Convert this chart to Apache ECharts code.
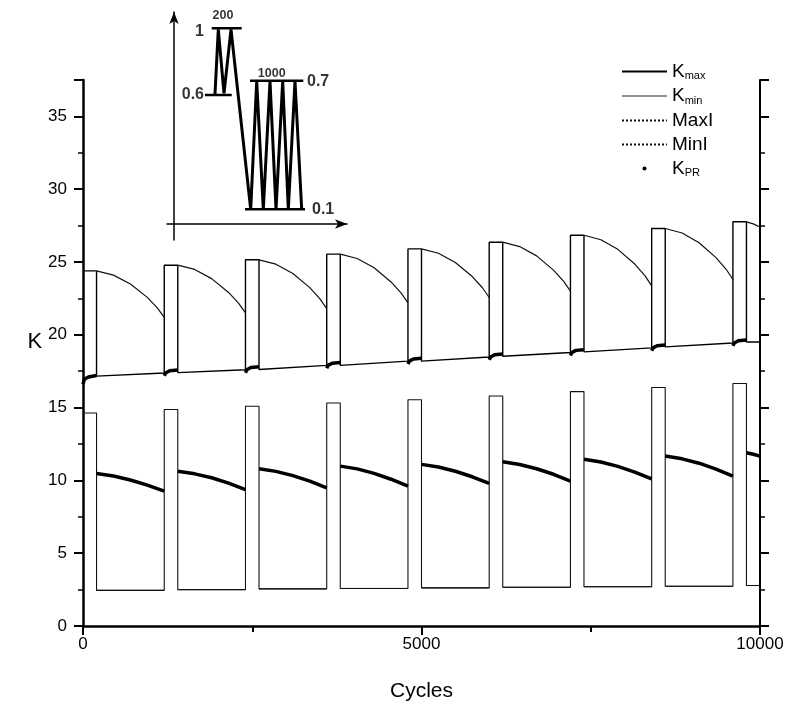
<!DOCTYPE html>
<html>
<head>
<meta charset="utf-8">
<script src="https://cdn.jsdelivr.net/npm/echarts@6/dist/echarts.min.js"></script>
<style>
  html, body { margin: 0; padding: 0; background: #fff; }
  #chart { width: 789px; height: 715px; }
</style>
</head>
<body>
<div id="chart"></div>
<script>
// block loading: 200 overload cycles then 1000 constant-amplitude cycles
const blockStart = [0, 1200, 2400, 3600, 4800, 6000, 7200, 8400, 9600];
const overloadCycles = 200;
const blockCycles = 1200;
const endCycle = 10000;

const kmaxOverload = [24.39, 24.78, 25.15, 25.54, 25.90, 26.36, 26.84, 27.30, 27.76];
const kmaxBaseStart = [17.16, 17.40, 17.62, 17.90, 18.19, 18.53, 18.83, 19.17, 19.51];
const kmaxBaseEnd = [17.38, 17.60, 17.90, 18.19, 18.48, 18.78, 19.10, 19.44, 19.51];
const kminOverload = [14.63, 14.87, 15.09, 15.32, 15.54, 15.80, 16.10, 16.38, 16.66];
const kminBase = [2.45, 2.50, 2.55, 2.58, 2.62, 2.66, 2.70, 2.73, 2.78];

// MaxI after each overload, offsets counted from end of overload
const maxIOffsets = [0, 250, 500, 750, 900, 1000];
const maxI = [
  [24.39, 24.10, 23.49, 22.57, 21.83, 21.19],
  [24.78, 24.49, 23.86, 22.91, 22.16, 21.50],
  [25.15, 24.85, 24.21, 23.24, 22.47, 21.80],
  [25.54, 25.24, 24.60, 23.63, 22.86, 22.19],
  [25.90, 25.60, 24.97, 24.00, 23.23, 22.56],
  [26.36, 26.06, 25.42, 24.44, 23.67, 23.00],
  [26.84, 26.53, 25.87, 24.86, 24.06, 23.36],
  [27.30, 26.99, 26.32, 25.30, 24.50, 23.80]
];
const tailOffsets = [0, 100, 200];
const maxITail = [27.76, 27.62, 27.40];

// K_PR during overload (from block start) and after it (from end of overload)
const kprUpperOffsets = [0, 20, 80, 200];
const kprUpper = [
  [16.60, 16.95, 17.10, 17.20],
  [17.18, 17.38, 17.53, 17.58],
  [17.40, 17.60, 17.75, 17.80],
  [17.70, 17.90, 18.05, 18.10],
  [17.99, 18.19, 18.34, 18.39],
  [18.28, 18.48, 18.63, 18.68],
  [18.58, 18.78, 18.93, 18.98],
  [18.90, 19.10, 19.25, 19.30],
  [19.24, 19.44, 19.59, 19.64]
];
const kprLowerOffsets = [0, 250, 500, 750, 1000];
const kprLower = [
  [10.47, 10.30, 10.03, 9.68, 9.26],
  [10.63, 10.45, 10.18, 9.81, 9.37],
  [10.80, 10.62, 10.33, 9.95, 9.49],
  [10.98, 10.79, 10.48, 10.08, 9.60],
  [11.10, 10.92, 10.63, 10.25, 9.79],
  [11.28, 11.09, 10.80, 10.42, 9.95],
  [11.45, 11.26, 10.96, 10.57, 10.10],
  [11.67, 11.48, 11.18, 10.78, 10.30]
];
const kprLowerTail = [11.90, 11.80, 11.67];

// inset sketch (its own drawing units)
const insetPathX = [41, 44.3, 50, 57, 76.7, 82.7, 89.3, 96, 102, 108.7, 114.3, 121, 127.7];
const insetPathY = [130, 194.7, 130.7, 194.7, 14.7, 142.7, 14.7, 142.7, 14.7, 142.7, 14.7, 142.7, 14.7];
const insetLevels = [[37.7, 67.7, 195.7], [31, 57.7, 129], [76, 129.3, 143.3], [71, 131, 14.7]];
const insetLabels = ['1', '0.6', '0.7', '0.1', '200', '1000'];
const insetLabelPos = [[30, 192], [30, 129], [133, 142], [138, 14], [49, 208], [97.7, 150]];

const font = 'Liberation Sans, Arial, sans-serif';

const kmaxData = [], kminData = [], maxIData = [], minIData = [], kprData = [];
blockStart.forEach(function(t0, i) {
  const t1 = t0 + overloadCycles;
  const t2 = Math.min(t0 + blockCycles, endCycle);
  if (i > 0) {
    kmaxData.push([t0, kmaxBaseEnd[i - 1]]);
    kminData.push([t0, kminBase[i - 1]]);
  }
  kmaxData.push([t0, kmaxOverload[i]], [t1, kmaxOverload[i]], [t1, kmaxBaseStart[i]], [t2, kmaxBaseEnd[i]]);
  kminData.push([t0, kminOverload[i]], [t1, kminOverload[i]], [t1, kminBase[i]], [t2, kminBase[i]]);
  minIData.push([t1, kminBase[i]], [t2, kminBase[i]], [t2, '-']);

  const mi = i < maxI.length ? maxI[i] : maxITail;
  const mo = i < maxI.length ? maxIOffsets : tailOffsets;
  mi.forEach(function(v, j) { maxIData.push([t1 + mo[j], v]); });
  maxIData.push([t2, '-']);

  kprUpper[i].forEach(function(v, j) { kprData.push([t0 + kprUpperOffsets[j], v]); });
  kprData.push([t1, '-']);
  const kl = i < kprLower.length ? kprLower[i] : kprLowerTail;
  const ko = i < kprLower.length ? kprLowerOffsets : tailOffsets;
  kl.forEach(function(v, j) { kprData.push([t1 + ko[j], v]); });
  kprData.push([t2, '-']);
});

const legendText = {
  Kmax: '{k|K}{s|max}', Kmin: '{k|K}{s|min}', MaxI: '{k|MaxI}', MinI: '{k|MinI}', KPR: '{k|K}{s|PR}'
};

const axisColor = '#000';
function yAxisBase(pos) {
  return {
    type: 'value', gridIndex: 0, position: pos, min: 0, max: 37.5, interval: 5,
    axisLine: { show: true, onZero: false, lineStyle: { color: axisColor, width: pos === 'left' ? 2.5 : 2 } },
    axisTick: { show: true, length: 9, lineStyle: { color: axisColor, width: 2 } },
    minorTick: { show: true, splitNumber: 2, length: 5, lineStyle: { color: axisColor, width: 1.5 } },
    splitLine: { show: false }, minorSplitLine: { show: false },
    axisLabel: { show: pos === 'left', showMaxLabel: false, margin: 16, fontSize: 17, color: '#000', fontFamily: font }
  };
}

const chart = echarts.init(document.getElementById('chart'));
const option = {
  animation: false,
  backgroundColor: '#fff',
  grid: [
    { left: 83, right: 29, top: 80, bottom: 89, outerBoundsMode: 'none' },
    { left: 167, top: 12, width: 180, height: 228, outerBoundsMode: 'none' }
  ],
  legend: {
    orient: 'vertical', left: 621, top: 62, padding: 0,
    itemWidth: 45, itemHeight: 4, itemGap: 5,
    itemStyle: { opacity: 0 },
    data: [
      { name: 'Kmax' },
      { name: 'Kmin', lineStyle: { width: 1.2, color: '#222' } },
      { name: 'MaxI', lineStyle: { type: [2, 2] } },
      { name: 'MinI', lineStyle: { type: [2, 2] } },
      { name: 'KPR', icon: 'circle', itemStyle: { opacity: 1, color: '#000' } }
    ],
    formatter: function(name) { return legendText[name]; },
    textStyle: {
      color: '#000', fontFamily: font,
      rich: {
        k: { fontSize: 19, lineHeight: 20, fontFamily: font, color: '#000' },
        s: { fontSize: 11, lineHeight: 10, verticalAlign: 'bottom', fontFamily: font, color: '#000' }
      }
    }
  },
  xAxis: [
    {
      type: 'value', gridIndex: 0, min: 0, max: 10000, interval: 5000,
      axisLine: { show: true, onZero: false, lineStyle: { color: axisColor, width: 2.5 } },
      axisTick: { show: true, length: 9, lineStyle: { color: axisColor, width: 2 } },
      minorTick: { show: true, splitNumber: 2, length: 6, lineStyle: { color: axisColor, width: 2 } },
      splitLine: { show: false }, minorSplitLine: { show: false },
      axisLabel: {
        margin: 10, fontSize: 17, color: '#000', fontFamily: font,
        formatter: function(v) { return String(v); }
      },
      name: 'Cycles', nameLocation: 'middle', nameGap: 55,
      nameTextStyle: { fontSize: 21, color: '#000', fontFamily: font }
    },
    {
      type: 'value', gridIndex: 1, min: -7, max: 173,
      axisLine: { show: true, onZero: true, symbol: ['none', 'arrow'], symbolSize: [7, 12], lineStyle: { color: '#000', width: 1.5 } },
      axisTick: { show: false }, axisLabel: { show: false }, splitLine: { show: false }
    }
  ],
  yAxis: [
    Object.assign(yAxisBase('left'), {
      name: 'K', nameLocation: 'middle', nameRotate: 0, nameGap: 39,
      nameTextStyle: { fontSize: 22, color: '#000', fontFamily: font, verticalAlign: 'bottom' }
    }),
    yAxisBase('right'),
    {
      type: 'value', gridIndex: 1, min: -16, max: 212,
      axisLine: { show: true, onZero: true, symbol: ['none', 'arrow'], symbolSize: [7, 12], lineStyle: { color: '#000', width: 1.5 } },
      axisTick: { show: false }, axisLabel: { show: false }, splitLine: { show: false }
    }
  ],
  series: [
    {
      name: 'Kmax', type: 'line', xAxisIndex: 0, yAxisIndex: 0, data: kmaxData,
      symbol: 'none', lineStyle: { color: '#000', width: 1.4 }, itemStyle: { color: '#000' }, z: 3
    },
    {
      name: 'Kmin', type: 'line', xAxisIndex: 0, yAxisIndex: 0, data: kminData,
      symbol: 'none', lineStyle: { color: '#111', width: 1.1 }, itemStyle: { color: '#111' }, z: 3
    },
    {
      name: 'MaxI', type: 'line', xAxisIndex: 0, yAxisIndex: 0, data: maxIData,
      symbol: 'none', connectNulls: false, lineStyle: { color: '#111', width: 1.2 }, itemStyle: { color: '#111' }, z: 3
    },
    {
      name: 'MinI', type: 'line', xAxisIndex: 0, yAxisIndex: 0, data: minIData,
      symbol: 'none', connectNulls: false, lineStyle: { color: '#111', width: 1 }, itemStyle: { color: '#111' }, z: 3
    },
    {
      name: 'KPR', type: 'line', xAxisIndex: 0, yAxisIndex: 0, data: kprData,
      symbol: 'none', connectNulls: false, lineStyle: { color: '#000', width: 3.5 }, itemStyle: { color: '#000' }, z: 4
    },
    // inset
    {
      type: 'line', xAxisIndex: 1, yAxisIndex: 2, symbol: 'none',
      data: insetPathX.map(function(x, i) { return [x, insetPathY[i]]; }),
      lineStyle: { color: '#000', width: 3 }, z: 5
    },
    {
      type: 'line', xAxisIndex: 1, yAxisIndex: 2, symbol: 'none', connectNulls: false,
      data: insetLevels.reduce(function(acc, l) { return acc.concat([[l[0], l[2]], [l[1], l[2]], [l[1], '-']]); }, []),
      lineStyle: { color: '#000', width: 2.5 }, z: 5
    },
    {
      type: 'scatter', xAxisIndex: 1, yAxisIndex: 2, symbolSize: 0,
      data: insetLabels.map(function(t, i) {
        const lab = i < 2 ? { align: 'right', fontSize: 16 } : (i < 4 ? { align: 'left', fontSize: 16 } : { fontSize: 12.5 });
        return { name: t, value: insetLabelPos[i], label: lab };
      }),
      label: {
        show: true, formatter: '{b}', color: '#000', fontFamily: font, fontWeight: 'bold',
        position: 'inside'
      },
      z: 6
    }
  ]
};

chart.setOption(option);
</script>
</body>
</html>
